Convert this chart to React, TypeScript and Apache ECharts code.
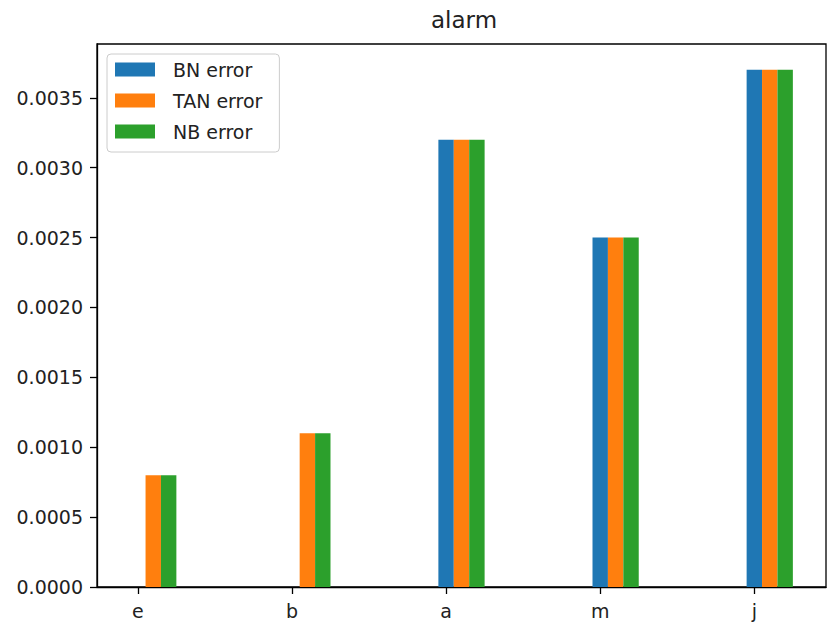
import React, { useEffect, useRef } from "react";
import * as echarts from "echarts";

const categories = ["e", "b", "a", "m", "j"];
const seriesNames = ["BN error", "TAN error", "NB error"];
const bnError = [0, 0, 0.0032, 0.0025, 0.0037];
const tanError = [0.0008, 0.0011, 0.0032, 0.0025, 0.0037];
const nbError = [0.0008, 0.0011, 0.0032, 0.0025, 0.0037];
const yTicks = [0, 0.0005, 0.001, 0.0015, 0.002, 0.0025, 0.003, 0.0035];
const xTicks = [0, 1, 2, 3, 4];
const colors = ["#1f77b4", "#ff7f0e", "#2ca02c"];
const BAR_W = 0.1;

const FONT = "DejaVu Sans";

export default function App() {
  const ref = useRef<HTMLDivElement>(null);
  useEffect(() => {
    if (!ref.current) return;
    const chart = echarts.init(ref.current, null, { renderer: "svg" });
    const allSeries = [bnError, tanError, nbError];
    const series = allSeries.map((vals, s) => ({
      type: "custom",
      name: seriesNames[s],
      itemStyle: { color: colors[s] },
      encode: { x: 0, y: 1 },
      data: vals.map((v, i) => [i + s * BAR_W, v]),
      renderItem: (params: any, api: any) => {
        const x = api.value(0);
        const y = api.value(1);
        const p0 = api.coord([x - BAR_W / 2, y]);
        const p1 = api.coord([x + BAR_W / 2, 0]);
        return {
          type: "rect",
          shape: { x: p0[0], y: p0[1], width: p1[0] - p0[0], height: p1[1] - p0[1] },
          style: { fill: colors[s] },
        };
      },
    }));
    const maxVal = Math.max(...bnError, ...tanError, ...nbError);
    const option: any = {
      animation: false,
      backgroundColor: "#fff",
      title: {
        text: "alarm",
        left: 426,
        top: 3,
        textStyle: { fontFamily: FONT, fontSize: 23, fontWeight: "normal", color: "#222" },
      },
      legend: {
        orient: "vertical",
        left: 107,
        top: 54,
        data: seriesNames.map((n, s) => ({ name: n, icon: "rect", itemStyle: { color: colors[s] } })),
        itemWidth: 40,
        itemHeight: 14,
        itemGap: 12,
        padding: [6, 17, 11, 8],
        borderColor: "#cccccc",
        borderWidth: 1,
        borderRadius: 4,
        backgroundColor: "rgba(255,255,255,0.8)",
        textStyle: { fontFamily: FONT, fontSize: 19, color: "#222", padding: [0, 0, 0, 13] },
      },
      grid: {
        left: 97,
        right: 2,
        top: 44,
        bottom: 42,
        show: true,
        borderColor: "#000",
        borderWidth: 1.3,
        backgroundColor: "transparent",
      },
      xAxis: {
        type: "value",
        min: -0.05 - 0.215,
        max: 4 + 2 * BAR_W + BAR_W / 2 + 0.215,
        splitLine: { show: false },
        axisLine: { show: true, onZero: false, lineStyle: { color: "#000", width: 1.3 } },
        axisTick: { show: true, customValues: xTicks, length: 7, lineStyle: { color: "#000", width: 1.3 } },
        axisLabel: {
          customValues: xTicks,
          formatter: (v: number) => categories[Math.round(v)],
          fontFamily: FONT,
          fontSize: 19,
          color: "#222",
          margin: 14,
        },
      },
      yAxis: {
        type: "value",
        min: 0,
        max: maxVal * 1.05,
        splitLine: { show: false },
        axisLine: { show: true, onZero: false, lineStyle: { color: "#000", width: 1.3 } },
        axisTick: { show: true, customValues: yTicks, length: 7, lineStyle: { color: "#000", width: 1.3 } },
        axisLabel: {
          customValues: yTicks,
          formatter: (v: number) => v.toFixed(4),
          fontFamily: FONT,
          fontSize: 19,
          color: "#222",
          margin: 14,
        },
      },
      series,
    };
    chart.setOption(option);
    return () => chart.dispose();
  }, []);
  return <div ref={ref} style={{ width: 828, height: 629, position: "absolute", left: 0, top: 0 }} />;
}
